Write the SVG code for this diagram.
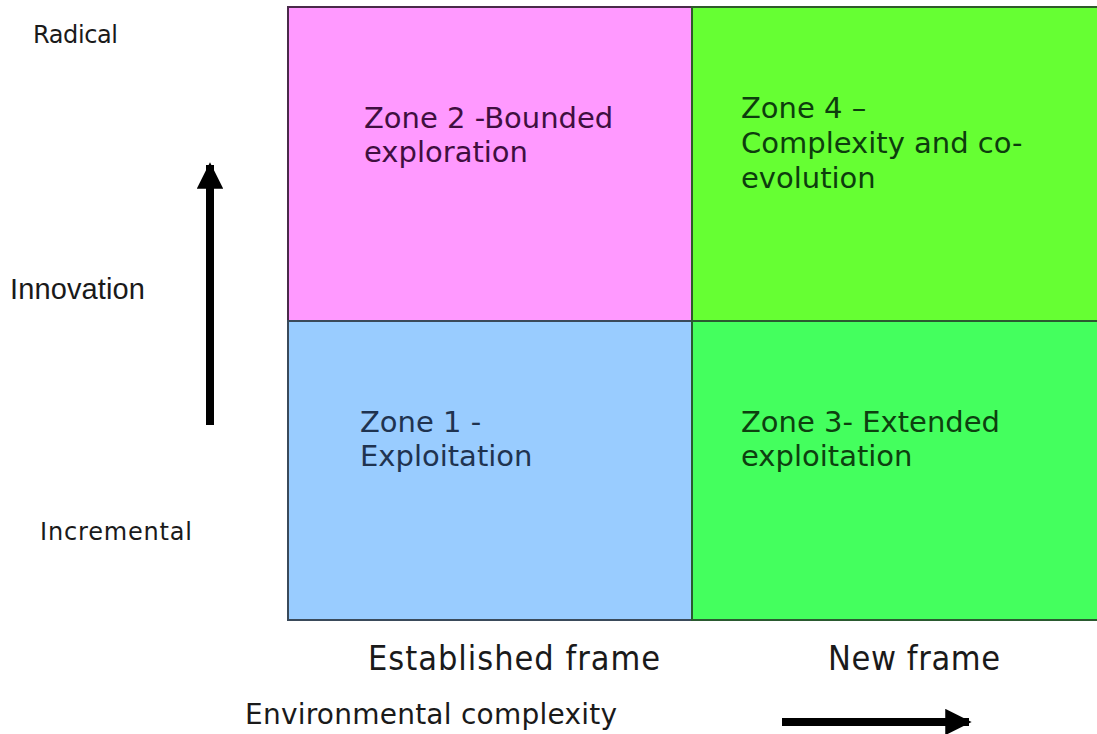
<svg xmlns="http://www.w3.org/2000/svg" width="1097" height="734" viewBox="0 0 1097 734">
  <style>
    .zone { font-family: "DejaVu Sans", Verdana, sans-serif; font-size: 29px; }
    .axis { font-family: "DejaVu Sans", Verdana, sans-serif; fill: #1a1a1a; }
    .frame { font-family: "DejaVu Sans Condensed", "DejaVu Sans", sans-serif; font-size: 34px; fill: #1a1a1a; }
    .cell { stroke-width: 2; }
  </style>
  <defs>
    <marker id="head" viewBox="0 0 10 10" refX="9" refY="5" markerWidth="3.3" markerHeight="3.3" orient="auto" markerUnits="strokeWidth">
      <path d="M0,0 L10,5 L0,10 Z" fill="#000"/>
    </marker>
  </defs>
  <rect width="1097" height="734" fill="#ffffff"/>

  <!-- quadrant cells -->
  <g id="zone2">
    <rect class="cell" x="288" y="7" width="404" height="314" fill="#ff99ff" stroke="#4a2a4a"/>
    <text class="zone" fill="#3f0f40"><tspan x="364" y="128">Zone 2 -Bounded</tspan><tspan x="364" y="162">exploration</tspan></text>
  </g>
  <g id="zone4">
    <rect class="cell" x="692" y="7" width="410" height="314" fill="#66ff33" stroke="#2e5a2a"/>
    <text class="zone" fill="#0d3d0d"><tspan x="741" y="118">Zone 4 –</tspan><tspan x="741" y="153">Complexity and co-</tspan><tspan x="741" y="188">evolution</tspan></text>
  </g>
  <g id="zone1">
    <rect class="cell" x="288" y="321" width="404" height="299" fill="#99ccff" stroke="#3a4a5a"/>
    <text class="zone" fill="#1f3350"><tspan x="360" y="432">Zone 1 -</tspan><tspan x="360" y="466">Exploitation</tspan></text>
  </g>
  <g id="zone3">
    <rect class="cell" x="692" y="321" width="410" height="299" fill="#44ff5e" stroke="#2a5a30"/>
    <text class="zone" fill="#0d400f"><tspan x="741" y="432">Zone 3- Extended</tspan><tspan x="741" y="466">exploitation</tspan></text>
  </g>

  <!-- axis labels -->
  <g id="labels">
    <text class="axis" x="33" y="43" font-size="24" textLength="85">Radical</text>
    <text x="10" y="299" font-family="Liberation Sans, Arial, sans-serif" font-size="29" fill="#1a1a1a" textLength="135">Innovation</text>
    <text class="axis" x="40" y="540" font-size="24" textLength="152">Incremental</text>
    <text class="frame" x="368" y="670" textLength="292">Established frame</text>
    <text class="frame" x="828" y="670" textLength="172">New frame</text>
    <text class="axis" x="245" y="724" font-size="28" textLength="372">Environmental complexity</text>
  </g>

  <!-- axis arrows -->
  <g id="connectors" stroke="#000" stroke-width="8" fill="none">
    <line x1="210" y1="425" x2="210" y2="165" marker-end="url(#head)"/>
    <line x1="782" y1="722" x2="969" y2="722" marker-end="url(#head)"/>
  </g>
</svg>
